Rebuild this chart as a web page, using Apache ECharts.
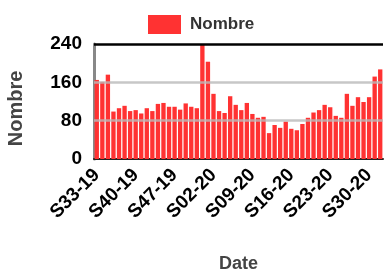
<!DOCTYPE html>
<html>
<head>
	<meta charset="UTF-8">
	<title>Nombre par semaine</title>
	<script src="https://cdn.jsdelivr.net/npm/echarts@6/dist/echarts.min.js"></script>
	<style>
		html, body { margin: 0; padding: 0; background: #fff; }
		#chart { width: 385px; height: 274px; }
	</style>
</head>
<body>
	<div id="chart"></div>
	<script type="text/javascript">
		// semaines S33-19 .. S32-20
		var weeks = [];
		for (var w = 33; w <= 52; w++) { weeks.push('S' + w + '-19'); }
		for (var w2 = 1; w2 <= 32; w2++) { weeks.push('S' + (w2 < 10 ? '0' + w2 : w2) + '-20'); }

		// valeurs
		var counts = [
			165, 161, 176, 99, 106, 111, 100, 102, 95, 106,
			100, 115, 117, 109, 109, 103, 116, 109, 106, 240,
			203, 136, 100, 96, 131, 113, 102, 117, 94, 86,
			88, 54, 71, 65, 78, 63, 60, 73, 86, 97,
			102, 113, 108, 90, 86, 136, 111, 129, 119, 129,
			172, 187
		];

		var yTicks = [0, 80, 160, 240];
		var gridLines = [80, 160];

		var font = '"Liberation Sans", Arial, sans-serif';

		var myChart = echarts.init(document.getElementById('chart'));

		var lines = gridLines.map(function (v) {
			return { yAxis: v, lineStyle: { color: 'rgba(185,185,185,0.8)', width: 2.5, type: 'solid' } };
		});
		lines.push({ yAxis: yTicks[yTicks.length - 1], lineStyle: { color: '#000', width: 2.5, type: 'solid' } });

		var option = {
			animation: false,
			textStyle: { fontFamily: font },
			legend: {
				data: ['Nombre'],
				left: 143,
				top: 10,
				itemWidth: 33,
				itemHeight: 19,
				icon: 'rect',
				textStyle: { fontSize: 17, fontWeight: 'bold', color: '#333', padding: [0, 0, 0, 4] }
			},
			grid: { left: 94, right: 2, top: 44, bottom: 115, containLabel: false, outerBoundsMode: 'none' },
			xAxis: {
				type: 'category',
				data: weeks,
				name: 'Date',
				nameLocation: 'middle',
				nameGap: 96,
				nameTextStyle: { fontSize: 18, fontWeight: 'bold', color: '#444' },
				axisLine: { lineStyle: { color: '#222', width: 2 } },
				axisTick: { interval: 6, length: 4, lineStyle: { color: '#000', width: 2 } },
				axisLabel: { interval: 6, rotate: 45, fontSize: 19, fontWeight: 'bold', color: '#000', margin: 13, hideOverlap: false }
			},
			yAxis: {
				type: 'value',
				min: 0,
				max: 240,
				interval: 80,
				name: 'Nombre',
				nameLocation: 'middle',
				nameGap: 68,
				nameTextStyle: { fontSize: 20, fontWeight: 'bold', color: '#444', padding: [0, 0, 0, -14] },
				axisLine: { show: true, lineStyle: { color: '#888', width: 3 } },
				axisTick: { show: false },
				splitLine: { show: false },
				axisLabel: { fontSize: 19, fontWeight: 'bold', color: '#000', margin: 12 }
			},
			series: [{
				name: 'Nombre',
				type: 'bar',
				data: counts,
				barCategoryGap: '22%',
				itemStyle: { color: '#ff3232' },
				markLine: {
					silent: true,
					symbol: 'none',
					label: { show: false },
					data: lines
				}
			}]
		};

		myChart.setOption(option);
	</script>
</body>
</html>
